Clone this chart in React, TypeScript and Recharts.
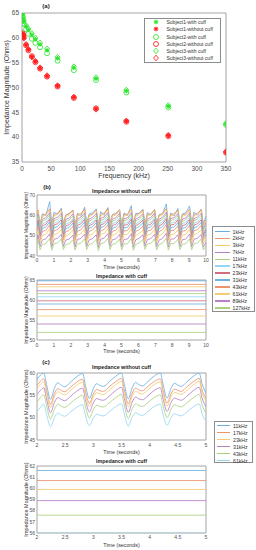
import React from 'react';
import { ScatterChart, Scatter, LineChart, Line, XAxis, YAxis, ReferenceArea, Legend } from 'recharts';

const FONT = '"Liberation Sans", Arial, Helvetica, sans-serif';
const AXIS_GRAY = '#a4a4a4';
const TICK_FILL = '#505050';
const LABEL_FILL = '#333333';

// ---------------- (a) impedance vs frequency ----------------
const freqKHz = [1, 2, 3, 7, 11, 17, 23, 31, 43, 61, 89, 127, 179, 251, 350];
const subj1With = [64.7, 63.9, 63.3, 62.3, 61.6, 60.6, 59.7, 58.7, 57.5, 55.9, 54.0, 51.8, 49.3, 46.2, 42.6];
const subj1Without = [60.8, 60.5, 60.0, 58.6, 57.6, 56.2, 55.2, 53.9, 52.3, 50.3, 48.0, 45.7, 43.2, 40.3, 37.0];
const subj2With = [64.3, 63.4, 62.8, 61.7, 60.8, 59.8, 59.0, 58.1, 56.9, 55.4, 53.5, 51.5, 49.0, 46.0, 42.5];
const subj2Without = [60.9, 60.6, 60.1, 58.5, 57.5, 56.3, 55.1, 53.8, 52.2, 50.2, 47.9, 45.8, 43.1, 40.2, 36.9];
const subj3With = [64.8, 64.1, 63.5, 62.5, 61.8, 60.9, 60.0, 59.0, 57.8, 56.1, 54.2, 52.0, 49.5, 46.4, 42.8];
const subj3Without = [60.7, 60.4, 59.9, 58.7, 57.7, 56.1, 55.3, 54.0, 52.4, 50.4, 48.1, 45.6, 43.3, 40.4, 37.1];
const freqTicks = [0, 50, 100, 150, 200, 250, 300, 350];
const impTicksA = [35, 40, 45, 50, 55, 60, 65];
const legendA = [
  'Subject1-with cuff',
  'Subject1-without cuff',
  'Subject2-with cuff',
  'Subject2-without cuff',
  'Subject3-with cuff',
  'Subject3-without cuff',
];

// ---------------- (b) 0–10 s, 12 frequencies ----------------
const freqLabelsB = ['1kHz', '2kHz', '3kHz', '7kHz', '11kHz', '17kHz', '23kHz', '31kHz', '43kHz', '61kHz', '89kHz', '127kHz'];
const timeB = [
  0.00,
  0.06, 0.18, 0.32, 0.52,
  0.75, 0.87, 1.01, 1.21,
  1.44, 1.56, 1.70, 1.90,
  2.13, 2.25, 2.39, 2.59,
  2.82, 2.94, 3.08, 3.28,
  3.51, 3.63, 3.77, 3.97,
  4.20, 4.32, 4.46, 4.66,
  4.89, 5.01, 5.15, 5.35,
  5.58, 5.70, 5.84, 6.04,
  6.27, 6.39, 6.53, 6.73,
  6.96, 7.08, 7.22, 7.42,
  7.65, 7.77, 7.91, 8.11,
  8.34, 8.46, 8.60, 8.80,
  9.03, 9.15, 9.29, 9.49,
  9.72, 9.84, 10.00,
];
const b1k = [59.5,
  62.0, 55.5, 60.8, 59.8, 66.8, 56.2, 61.5, 60.5, 63.5, 55.8, 60.2, 60.9, 62.6, 55.0, 61.0, 59.6,
  64.0, 56.0, 60.6, 61.2, 63.2, 55.4, 61.8, 60.0, 63.8, 56.3, 60.4, 60.8, 62.4, 55.6, 61.2, 59.9,
  64.8, 55.9, 60.9, 61.0, 63.0, 55.2, 61.4, 60.2, 62.8, 56.1, 60.3, 60.6, 65.6, 55.7, 61.1, 59.7,
  63.4, 55.3, 60.7, 61.3, 64.6, 56.0, 61.6, 60.1, 63.0, 55.8, 59.5];
const b2k = [59.8,
  62.6, 55.2, 60.0, 60.6, 63.2, 54.8, 60.4, 61.0, 62.9, 55.3, 60.1, 60.7, 62.5, 54.9, 60.3, 60.9,
  63.0, 55.1, 60.0, 60.6, 62.7, 54.7, 60.5, 61.1, 63.3, 55.2, 60.2, 60.8, 62.8, 55.0, 60.4, 60.6,
  63.1, 54.8, 60.1, 61.0, 62.6, 55.3, 60.3, 60.7, 62.9, 55.0, 60.0, 60.9, 63.4, 54.9, 60.5, 60.8,
  62.7, 55.2, 60.2, 60.6, 63.0, 55.1, 60.4, 61.0, 62.8, 54.9, 58.0];
const b3k = [59.3,
  62.0, 54.6, 59.5, 60.1, 62.5, 54.3, 59.8, 60.4, 62.2, 54.7, 59.4, 60.0, 61.9, 54.4, 59.7, 60.3,
  62.4, 54.6, 59.5, 60.2, 62.1, 54.2, 59.9, 60.5, 62.6, 54.7, 59.6, 60.1, 62.2, 54.5, 59.8, 60.0,
  62.5, 54.3, 59.5, 60.4, 62.0, 54.8, 59.7, 60.2, 62.3, 54.5, 59.4, 60.3, 62.7, 54.4, 59.9, 60.1,
  62.1, 54.6, 59.6, 60.0, 62.4, 54.5, 59.8, 60.4, 62.2, 54.4, 57.5];
const b7k = [58.0,
  60.8, 53.3, 58.1, 58.8, 61.3, 53.0, 58.4, 59.1, 61.0, 53.4, 58.0, 58.7, 60.7, 53.1, 58.3, 59.0,
  61.2, 53.3, 58.1, 58.9, 60.9, 52.9, 58.5, 59.2, 61.4, 53.4, 58.2, 58.8, 61.0, 53.2, 58.4, 58.7,
  61.3, 53.0, 58.1, 59.1, 60.8, 53.5, 58.3, 58.9, 61.1, 53.2, 58.0, 59.0, 61.5, 53.1, 58.5, 58.8,
  60.9, 53.3, 58.2, 58.7, 61.2, 53.2, 58.4, 59.1, 61.0, 53.1, 56.3];
const b11k = [57.0,
  59.8, 52.3, 57.1, 57.8, 60.3, 52.0, 57.4, 58.1, 60.0, 52.4, 57.0, 57.7, 59.7, 52.1, 57.3, 58.0,
  60.2, 52.3, 57.1, 57.9, 59.9, 51.9, 57.5, 58.2, 60.4, 52.4, 57.2, 57.8, 60.0, 52.2, 57.4, 57.7,
  60.3, 52.0, 57.1, 58.1, 59.8, 52.5, 57.3, 57.9, 60.1, 52.2, 57.0, 58.0, 60.5, 52.1, 57.5, 57.8,
  59.9, 52.3, 57.2, 57.7, 60.2, 52.2, 57.4, 58.1, 60.0, 52.1, 55.3];
const b17k = [55.8,
  58.5, 51.1, 55.8, 56.5, 59.0, 50.8, 56.1, 56.8, 58.7, 51.2, 55.7, 56.4, 58.4, 50.9, 56.0, 56.7,
  58.9, 51.1, 55.8, 56.6, 58.6, 50.7, 56.2, 56.9, 59.1, 51.2, 55.9, 56.5, 58.7, 51.0, 56.1, 56.4,
  59.0, 50.8, 55.8, 56.8, 58.5, 51.3, 56.0, 56.6, 58.8, 51.0, 55.7, 56.7, 59.2, 50.9, 56.2, 56.5,
  58.6, 51.1, 55.9, 56.4, 58.9, 51.0, 56.1, 56.8, 58.7, 50.9, 54.1];
const b23k = [54.9,
  57.6, 50.3, 54.9, 55.5, 58.1, 50.0, 55.2, 55.8, 57.8, 50.4, 54.8, 55.4, 57.5, 50.1, 55.1, 55.7,
  58.0, 50.3, 54.9, 55.6, 57.7, 49.9, 55.3, 55.9, 58.2, 50.4, 55.0, 55.5, 57.8, 50.2, 55.2, 55.4,
  58.1, 50.0, 54.9, 55.8, 57.6, 50.5, 55.1, 55.6, 57.9, 50.2, 54.8, 55.7, 58.3, 50.1, 55.3, 55.5,
  57.7, 50.3, 55.0, 55.4, 58.0, 50.2, 55.2, 55.8, 57.8, 50.1, 53.2];
const b31k = [53.6,
  56.3, 49.2, 53.6, 54.2, 56.8, 48.9, 53.9, 54.5, 56.5, 49.3, 53.5, 54.1, 56.2, 49.0, 53.8, 54.4,
  56.7, 49.2, 53.6, 54.3, 56.4, 48.8, 54.0, 54.6, 56.9, 49.3, 53.7, 54.2, 56.5, 49.1, 53.9, 54.1,
  56.8, 48.9, 53.6, 54.5, 56.3, 49.4, 53.8, 54.3, 56.6, 49.1, 53.5, 54.4, 57.0, 49.0, 54.0, 54.2,
  56.4, 49.2, 53.7, 54.1, 56.7, 49.1, 53.9, 54.5, 56.5, 49.0, 52.0];
const b43k = [52.1,
  54.8, 47.9, 52.1, 52.6, 55.3, 47.6, 52.4, 52.9, 55.0, 48.0, 52.0, 52.5, 54.7, 47.7, 52.3, 52.8,
  55.2, 47.9, 52.1, 52.7, 54.9, 47.5, 52.5, 53.0, 55.4, 48.0, 52.2, 52.6, 55.0, 47.8, 52.4, 52.5,
  55.3, 47.6, 52.1, 52.9, 54.8, 48.1, 52.3, 52.7, 55.1, 47.8, 52.0, 52.8, 55.5, 47.7, 52.5, 52.6,
  54.9, 47.9, 52.2, 52.5, 55.2, 47.8, 52.4, 52.9, 55.0, 47.7, 50.6];
const b61k = [50.2,
  52.8, 46.3, 50.2, 50.7, 53.3, 46.0, 50.5, 51.0, 53.0, 46.4, 50.1, 50.6, 52.7, 46.1, 50.4, 50.9,
  53.2, 46.3, 50.2, 50.8, 52.9, 45.9, 50.6, 51.1, 53.4, 46.4, 50.3, 50.7, 53.0, 46.2, 50.5, 50.6,
  53.3, 46.0, 50.2, 51.0, 52.8, 46.5, 50.4, 50.8, 53.1, 46.2, 50.1, 50.9, 53.5, 46.1, 50.6, 50.7,
  52.9, 46.3, 50.3, 50.6, 53.2, 46.2, 50.5, 51.0, 53.0, 46.1, 48.8];
const b89k = [47.9,
  50.4, 44.6, 47.9, 48.4, 50.9, 44.3, 48.2, 48.7, 50.6, 44.7, 47.8, 48.3, 50.3, 44.4, 48.1, 48.6,
  50.8, 44.6, 47.9, 48.5, 50.5, 44.2, 48.3, 48.8, 51.0, 44.7, 48.0, 48.4, 50.6, 44.5, 48.2, 48.3,
  50.9, 44.3, 47.9, 48.7, 50.4, 44.8, 48.1, 48.5, 50.7, 44.5, 47.8, 48.6, 51.1, 44.4, 48.3, 48.4,
  50.5, 44.6, 48.0, 48.3, 50.8, 44.5, 48.2, 48.7, 50.6, 44.4, 46.8];
const b127k = [45.7,
  48.1, 43.1, 45.7, 46.1, 48.6, 42.8, 46.0, 46.4, 48.3, 43.2, 45.6, 46.0, 48.0, 42.9, 45.9, 46.3,
  48.5, 43.1, 45.7, 46.2, 48.2, 42.7, 46.1, 46.5, 48.7, 43.2, 45.8, 46.1, 48.3, 43.0, 46.0, 46.0,
  48.6, 42.8, 45.7, 46.4, 48.1, 43.3, 45.9, 46.2, 48.4, 43.0, 45.6, 46.3, 48.8, 42.9, 46.1, 46.1,
  48.2, 43.1, 45.8, 46.0, 48.5, 43.0, 46.0, 46.4, 48.3, 42.9, 44.9];
const seriesBWithout = [b1k, b2k, b3k, b7k, b11k, b17k, b23k, b31k, b43k, b61k, b89k, b127k];
const timeCuffB = [0, 10];
const cuffB = [64.8, 63.9, 63.3, 62.3, 61.6, 60.8, 59.8, 59.0, 57.6, 56.0, 54.0, 51.9];
const timeTicksB = [0, 1, 2, 3, 4, 5, 6, 7, 8, 9, 10];

// ---------------- (c) 2–5 s, 6 frequencies ----------------
const freqLabelsC = ['11kHz', '17kHz', '23kHz', '31kHz', '43kHz', '61kHz'];
const timeC = [2.00, 2.06,
  2.12, 2.17, 2.24, 2.31, 2.37, 2.43, 2.49, 2.59, 2.70,
  2.81, 2.86, 2.93, 3.00, 3.06, 3.12, 3.18, 3.28, 3.39,
  3.50, 3.55, 3.62, 3.69, 3.75, 3.81, 3.87, 3.97, 4.08,
  4.19, 4.24, 4.31, 4.38, 4.44, 4.50, 4.56, 4.66, 4.77,
  4.88, 4.93, 5.00];
const c11k = [58.6, 59.5,
  60.0, 57.4, 54.1, 56.6, 57.8, 57.3, 56.9, 57.9, 59.1,
  59.9, 57.2, 54.3, 56.5, 57.6, 57.2, 57.0, 58.0, 59.2,
  60.0, 57.5, 54.2, 56.7, 57.9, 57.4, 57.1, 58.1, 59.3,
  60.0, 57.3, 54.4, 56.6, 57.7, 57.3, 57.0, 58.0, 59.2,
  60.0, 57.6, 55.5];
const c17k = [57.2, 58.1,
  58.7, 56.1, 53.0, 55.4, 56.5, 56.1, 55.8, 56.8, 57.9,
  58.6, 55.9, 53.2, 55.3, 56.3, 56.0, 55.9, 56.9, 58.0,
  58.8, 56.2, 53.1, 55.5, 56.6, 56.2, 56.0, 57.0, 58.1,
  58.7, 56.0, 53.3, 55.4, 56.4, 56.1, 55.9, 56.9, 58.0,
  58.8, 56.3, 54.3];
const c23k = [56.5, 57.4,
  58.0, 55.4, 52.3, 54.7, 55.8, 55.4, 55.1, 56.0, 57.2,
  57.9, 55.2, 52.5, 54.6, 55.6, 55.3, 55.2, 56.1, 57.3,
  58.1, 55.5, 52.4, 54.8, 55.9, 55.5, 55.3, 56.2, 57.4,
  58.0, 55.3, 52.6, 54.7, 55.7, 55.4, 55.2, 56.1, 57.3,
  58.1, 55.6, 53.6];
const c31k = [55.2, 56.1,
  56.7, 54.2, 51.1, 53.4, 54.5, 54.1, 53.8, 54.7, 55.9,
  56.6, 54.0, 51.3, 53.3, 54.3, 54.0, 53.9, 54.8, 56.0,
  56.8, 54.3, 51.2, 53.5, 54.6, 54.2, 54.0, 54.9, 56.1,
  56.7, 54.1, 51.4, 53.4, 54.4, 54.1, 53.9, 54.8, 56.0,
  56.8, 54.4, 52.4];
const c43k = [53.5, 54.5,
  55.1, 52.7, 49.7, 51.9, 53.0, 52.6, 52.3, 53.2, 54.3,
  55.0, 52.5, 49.9, 51.8, 52.8, 52.5, 52.4, 53.3, 54.4,
  55.2, 52.8, 49.8, 52.0, 53.1, 52.7, 52.5, 53.4, 54.5,
  55.1, 52.6, 50.0, 51.9, 52.9, 52.6, 52.4, 53.3, 54.4,
  55.2, 52.9, 51.0];
const c61k = [51.3, 52.3,
  53.0, 50.7, 48.0, 50.0, 51.0, 50.6, 50.3, 51.2, 52.3,
  52.9, 50.5, 48.2, 49.9, 50.8, 50.5, 50.4, 51.3, 52.4,
  53.1, 50.8, 48.1, 50.1, 51.1, 50.7, 50.5, 51.4, 52.5,
  53.0, 50.6, 48.3, 50.0, 50.9, 50.6, 50.4, 51.3, 52.4,
  53.1, 50.9, 49.2];
const seriesCWithout = [c11k, c17k, c23k, c31k, c43k, c61k];
const timeCuffC = [2, 5];
const cuffC = [61.6, 60.7, 59.9, 58.9, 57.6, 56.0];
const timeTicksC = [2, 2.5, 3, 3.5, 4, 4.5, 5];

// ---------------- styles ----------------
const PALETTE = ['#6cb0e2', '#ec9470', '#f3cb70', '#b880c8', '#a9d27f', '#94d7f4', '#d06d80'];
const colorsB = freqLabelsB.map((_, i) => PALETTE[i % PALETTE.length]);
const colorsC = freqLabelsC.map((_, i) => PALETTE[i % PALETTE.length]);
const GREEN = '#2fe62f';
const RED = '#ff1e1e';

function rowsFrom(times: number[], series: number[][]) {
  return times.map((t, i) => {
    const r: Record<string, number> = { t };
    series.forEach((s, k) => { r['s' + k] = s[i]; });
    return r;
  });
}
function constRows(times: number[], levels: number[]) {
  return times.map((t) => {
    const r: Record<string, number> = { t };
    levels.forEach((v, k) => { r['s' + k] = v; });
    return r;
  });
}
function pts(xs: number[], ys: number[]) {
  return xs.map((f, i) => ({ f, v: ys[i] }));
}

// ---------------- markers ----------------
function drawStar(cx: number, cy: number, color: string) {
  const r = 2.3;
  const d = r * 0.7071;
  return (
    <g>
      <circle cx={cx} cy={cy} r={1.4} fill={color} />
      <path
        d={`M${cx - r},${cy}L${cx + r},${cy}M${cx},${cy - r}L${cx},${cy + r}M${cx - d},${cy - d}L${cx + d},${cy + d}M${cx - d},${cy + d}L${cx + d},${cy - d}`}
        stroke={color}
        strokeWidth={1}
      />
    </g>
  );
}
function drawCircle(cx: number, cy: number, color: string) {
  return <circle cx={cx} cy={cy} r={2.5} fill="none" stroke={color} strokeWidth={0.85} />;
}
function drawDiamond(cx: number, cy: number, color: string) {
  return (
    <path
      d={`M${cx},${cy - 2.8}L${cx + 2.4},${cy}L${cx},${cy + 2.8}L${cx - 2.4},${cy}Z`}
      fill="none"
      stroke={color}
      strokeWidth={0.85}
    />
  );
}
type Drawer = (cx: number, cy: number, color: string) => React.ReactElement;
const shapeOf = (draw: Drawer, color: string) => (p: any) => draw(p.cx, p.cy, color);

const seriesA: { data: number[]; draw: Drawer; color: string }[] = [
  { data: subj1With, draw: drawStar, color: GREEN },
  { data: subj1Without, draw: drawStar, color: RED },
  { data: subj2With, draw: drawCircle, color: GREEN },
  { data: subj2Without, draw: drawCircle, color: RED },
  { data: subj3With, draw: drawDiamond, color: GREEN },
  { data: subj3Without, draw: drawDiamond, color: RED },
];

function LegendA() {
  return (
    <div style={{ position: 'relative', width: 77, height: 45, border: '1px solid #8c8c8c', background: '#fff', boxSizing: 'border-box' }}>
      {legendA.map((lab, i) => {
        const cy = 3.7 + i * 7.2;
        return (
          <React.Fragment key={lab}>
            <svg width={10} height={8} style={{ position: 'absolute', left: 5.5, top: cy - 4, overflow: 'visible' }}>
              {seriesA[i].draw(5, 4, seriesA[i].color)}
            </svg>
            <div style={{ position: 'absolute', left: 21.5, top: cy - 3, fontSize: 5, lineHeight: '6px', whiteSpace: 'nowrap', color: '#333', fontFamily: FONT }}>
              {lab}
            </div>
          </React.Fragment>
        );
      })}
    </div>
  );
}

function LineLegend(props: { labels: string[]; colors: string[]; width: number; height: number; rowTop: number; gap: number; lineW: number; textX: number }) {
  const { labels, colors, width, height, rowTop, gap, lineW, textX } = props;
  return (
    <div style={{ position: 'relative', width, height, border: '1px solid #8c8c8c', background: '#fff', boxSizing: 'border-box' }}>
      {labels.map((lab, i) => {
        const cy = rowTop + i * gap;
        return (
          <React.Fragment key={lab}>
            <div style={{ position: 'absolute', left: 1.5, top: cy - 0.8, width: lineW, height: 1.6, background: colors[i] }} />
            <div style={{ position: 'absolute', left: textX, top: cy - 3, fontSize: 5.2, lineHeight: '6px', whiteSpace: 'nowrap', color: '#333', fontFamily: FONT }}>
              {lab}
            </div>
          </React.Fragment>
        );
      })}
    </div>
  );
}

const tickStyle = (size: number) => ({ fontSize: size, fill: TICK_FILL, fontFamily: FONT });

function PanelA() {
  return (
    <div style={{ position: 'absolute', left: 0, top: 0 }}>
      <ScatterChart width={256} height={185} margin={{ top: 13, right: 30, bottom: 7, left: 0 }}>
        <XAxis
          type="number"
          dataKey="f"
          domain={[0, 350]}
          ticks={freqTicks}
          allowDataOverflow
          interval={0}
          axisLine={false}
          tickLine={false}
          tickSize={0}
          tickMargin={4.5}
          height={16}
          tick={tickStyle(6.5)}
          label={{ value: 'Frequency (kHz)', position: 'insideBottom', offset: 0, fontSize: 7, fill: LABEL_FILL, fontFamily: FONT }}
        />
        <YAxis
          type="number"
          dataKey="v"
          domain={[35, 65]}
          ticks={impTicksA}
          allowDataOverflow
          interval={0}
          axisLine={false}
          tickLine={false}
          tickSize={0}
          tickMargin={3}
          width={22}
          tick={tickStyle(6.5)}
          label={{ value: 'Impedance Magnitude (Ohms)', angle: -90, position: 'center', dx: -4, fontSize: 7, fill: LABEL_FILL, fontFamily: FONT }}
        />
        <ReferenceArea x1={0} x2={350} y1={35} y2={65} fill="#ffffff" fillOpacity={0} stroke={AXIS_GRAY} strokeWidth={1} ifOverflow="visible" />
        {seriesA.map((s, i) => (
          <Scatter key={i} data={pts(freqKHz, s.data)} shape={shapeOf(s.draw, s.color)} isAnimationActive={false} />
        ))}
        <Legend
          layout="vertical"
          align="center"
          verticalAlign="middle"
          wrapperStyle={{ left: 144, top: 17.5, width: 77, height: 45, zIndex: 5 }}
          content={() => <LegendA />}
        />
      </ScatterChart>
    </div>
  );
}

function LinePanel(props: {
  top: number; height: number; mTop: number; mBottom: number; xh: number;
  rows: Record<string, number>[]; n: number; colors: string[];
  xDomain: [number, number]; xTicks: number[]; yDomain: [number, number]; yTicks: number[];
  xTickMargin: number; curve: 'linear' | 'monotone'; yLabelSize: number; legend?: React.ReactNode;
}) {
  const { top, height, mTop, mBottom, xh, rows, n, colors, xDomain, xTicks, yDomain, yTicks, xTickMargin, curve, yLabelSize, legend } = props;
  const keys = Array.from({ length: n }, (_, k) => 's' + k);
  return (
    <div style={{ position: 'absolute', left: 0, top }}>
      <LineChart width={256} height={height} data={rows} margin={{ top: mTop, right: 50, bottom: mBottom, left: 0 }}>
        <XAxis
          type="number"
          dataKey="t"
          domain={xDomain}
          ticks={xTicks}
          allowDataOverflow
          interval={0}
          axisLine={false}
          tickLine={false}
          tickSize={0}
          tickMargin={xTickMargin}
          height={xh}
          tick={tickStyle(5)}
          label={{ value: 'Time (seconds)', position: 'insideBottom', offset: 0, fontSize: 5.3, fill: LABEL_FILL, fontFamily: FONT }}
        />
        <YAxis
          type="number"
          domain={yDomain}
          ticks={yTicks}
          allowDataOverflow
          interval={0}
          axisLine={false}
          tickLine={false}
          tickSize={0}
          tickMargin={2}
          width={37}
          tick={tickStyle(5)}
          label={{ value: 'Impedance Magnitude (Ohms)', angle: -90, position: 'center', dx: 8, fontSize: yLabelSize, fill: LABEL_FILL, fontFamily: FONT }}
        />
        <ReferenceArea x1={xDomain[0]} x2={xDomain[1]} y1={yDomain[0]} y2={yDomain[1]} fill="#ffffff" fillOpacity={0} stroke={AXIS_GRAY} strokeWidth={1} ifOverflow="visible" />
        {keys.map((k, i) => (
          <Line key={k} dataKey={k} type={curve} stroke={colors[i]} strokeWidth={0.85} dot={false} isAnimationActive={false} />
        ))}
        {legend}
      </LineChart>
    </div>
  );
}

function Title(props: { text: string; cy: number; size?: number }) {
  const size = props.size ?? 5.3;
  return (
    <div style={{ position: 'absolute', left: 37, width: 169, top: props.cy - size * 0.6, textAlign: 'center', fontSize: size, lineHeight: `${size * 1.2}px`, fontWeight: 'bold', color: '#222', fontFamily: FONT, whiteSpace: 'nowrap' }}>
      {props.text}
    </div>
  );
}
function PanelTag(props: { text: string; cx: number; cy: number }) {
  return (
    <div style={{ position: 'absolute', left: props.cx - 10, width: 20, top: props.cy - 3.6, textAlign: 'center', fontSize: 6, lineHeight: '7.2px', fontWeight: 'bold', color: '#222', fontFamily: FONT }}>
      {props.text}
    </div>
  );
}

export default function App() {
  const rowsB = rowsFrom(timeB, seriesBWithout);
  const rowsBCuff = constRows(timeCuffB, cuffB);
  const rowsC = rowsFrom(timeC, seriesCWithout);
  const rowsCCuff = constRows(timeCuffC, cuffC);
  return (
    <div style={{ position: 'absolute', left: 0, top: 0, width: 256, height: 550, background: '#fff', overflow: 'hidden', fontFamily: FONT }}>
      <PanelA />
      <LinePanel
        top={185} height={87} mTop={10} mBottom={3} xh={13}
        rows={rowsB} n={12} colors={colorsB}
        xDomain={[0, 10]} xTicks={timeTicksB} yDomain={[40, 70]} yTicks={[40, 50, 60, 70]}
        xTickMargin={2.2} curve="linear" yLabelSize={5}
        legend={
          <Legend
            layout="vertical" align="center" verticalAlign="middle"
            wrapperStyle={{ left: 212, top: 41, width: 43, height: 86, zIndex: 5 }}
            content={() => <LineLegend labels={freqLabelsB} colors={colorsB} width={43} height={86} rowTop={4.5} gap={6.95} lineW={15} textX={19.5} />}
          />
        }
      />
      <LinePanel
        top={272} height={84} mTop={8} mBottom={3} xh={13}
        rows={rowsBCuff} n={12} colors={colorsB}
        xDomain={[0, 10]} xTicks={timeTicksB} yDomain={[50, 65]} yTicks={[50, 55, 60, 65]}
        xTickMargin={3.2} curve="linear" yLabelSize={5}
      />
      <LinePanel
        top={360} height={96} mTop={13} mBottom={2} xh={14}
        rows={rowsC} n={6} colors={colorsC}
        xDomain={[2, 5]} xTicks={timeTicksC} yDomain={[45, 60]} yTicks={[45, 50, 55, 60]}
        xTickMargin={3.2} curve="monotone" yLabelSize={5.5}
        legend={
          <Legend
            layout="vertical" align="center" verticalAlign="middle"
            wrapperStyle={{ left: 214, top: 61, width: 39, height: 42, zIndex: 5 }}
            content={() => <LineLegend labels={freqLabelsC} colors={colorsC} width={39} height={42} rowTop={3.5} gap={7} lineW={13} textX={18} />}
          />
        }
      />
      <LinePanel
        top={456} height={94} mTop={10} mBottom={3} xh={14}
        rows={rowsCCuff} n={6} colors={colorsC}
        xDomain={[2, 5]} xTicks={timeTicksC} yDomain={[56, 62]} yTicks={[56, 57, 58, 59, 60, 61, 62]}
        xTickMargin={2.5} curve="linear" yLabelSize={5.5}
      />
      <PanelTag text="(a)" cx={46} cy={6.7} />
      <PanelTag text="(b)" cx={47} cy={188} />
      <PanelTag text="(c)" cx={46} cy={363} />
      <Title text="Impedance without cuff" cy={191.3} />
      <Title text="Impedance with cuff" cy={276} />
      <Title text="Impedance without cuff" cy={367} />
      <Title text="Impedance with cuff" cy={461} />
    </div>
  );
}
